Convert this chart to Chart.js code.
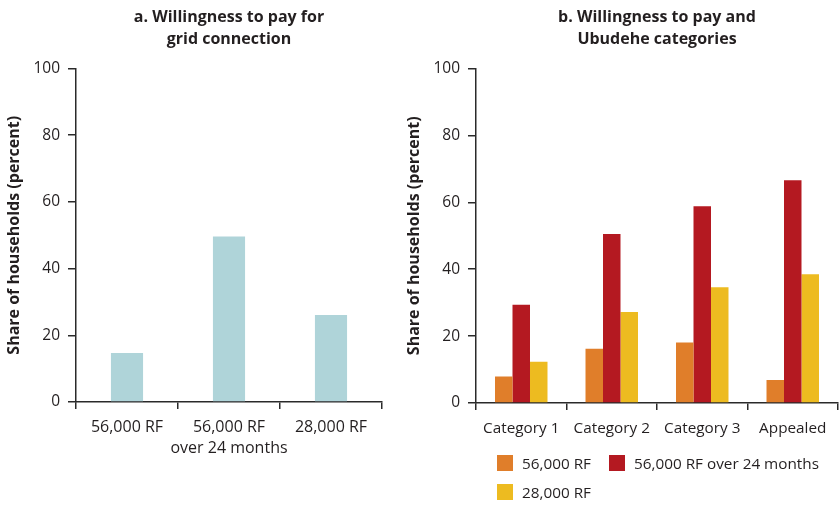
<!DOCTYPE html>
<html>
<head>
<meta charset="utf-8">
<script src="https://cdn.jsdelivr.net/npm/chart.js@4"></script>
<style>
  html, body { margin: 0; padding: 0; background: #fff; }
  #wrap { position: relative; width: 839px; height: 505px; overflow: hidden; font-family: "Open Sans", sans-serif; color: #231f20; }
  .panel { position: absolute; top: 0; }
  #panelA { left: 0; width: 420px; height: 505px; }
  #panelB { left: 400px; width: 439px; height: 505px; }
  .legend { position: absolute; font-size: 15.3px; color: #231f20; white-space: nowrap; }
  .legend .item { position: absolute; display: flex; align-items: center; line-height: 16px; }
  .legend .swatch { width: 16px; height: 16px; margin-right: 9px; }
</style>
</head>
<body>
<div id="wrap">
  <div class="panel" id="panelA"><canvas id="chartA"></canvas></div>
  <div class="panel" id="panelB"><canvas id="chartB"></canvas></div>
  <div class="legend" id="legendB"></div>
</div>
<script>
// panel a: willingness to pay for a grid connection
const optionLabels = ['56,000 RF', ['56,000 RF', 'over 24 months'], '28,000 RF'];
const optionShares = [14.7, 49.6, 26.1];

// panel b: by Ubudehe category
const ubudeheLabels = ['Category 1', 'Category 2', 'Category 3', 'Appealed'];
const seriesNames = ['56,000 RF', '56,000 RF over 24 months', '28,000 RF'];
const lumpSum = [7.9, 16.2, 18.1, 6.9];
const installments = [29.4, 50.5, 58.8, 66.6];
const halfPrice = [12.3, 27.2, 34.6, 38.5];
const yTicks = [0, 20, 40, 60, 80, 100];

const seriesColors = ['#e07e2a', '#b41921', '#edbb20'];
const ink = '#231f20';
const axisInk = '#2a2a2a';
const fontFamily = '"Open Sans", sans-serif';

Chart.defaults.font.family = fontFamily;
Chart.defaults.color = ink;
Chart.defaults.animation = false;
Chart.defaults.responsive = true;
Chart.defaults.maintainAspectRatio = false;

function axisScales(xHeight, xFontSize) {
    return {
        x: {
            grid: { display: true, drawOnChartArea: false, offset: true, tickLength: 7, color: axisInk, lineWidth: 1.5 },
            border: { display: true, color: axisInk, width: 1.5 },
            ticks: { font: { size: xFontSize, lineHeight: 1.33 }, padding: 8, maxRotation: 0, autoSkip: false },
            afterFit: (scale) => { scale.height = xHeight; }
        },
        y: {
            min: 0,
            max: 100,
            afterBuildTicks: (scale) => { scale.ticks = yTicks.map(v => ({ value: v })); },
            grid: { display: true, drawOnChartArea: false, tickLength: 8, color: axisInk, lineWidth: 1.5 },
            border: { display: true, color: axisInk, width: 1.5 },
            ticks: { font: { size: 15.5 }, padding: 8 },
            title: {
                display: true,
                text: 'Share of households (percent)',
                font: { size: 16, weight: 'bold' },
                padding: { top: 5, bottom: 0 }
            },
            afterFit: (scale) => { scale.width = 76; }
        }
    };
}

function panelTitle(lines) {
    return {
        display: true,
        text: lines,
        fullSize: false,
        color: ink,
        font: { size: 16, weight: 'bold', lineHeight: 1.36 },
        padding: { top: 7, bottom: 18 }
    };
}

new Chart(document.getElementById('chartA'), {
    type: 'bar',
    data: {
        labels: optionLabels,
        datasets: [{
            data: optionShares,
            backgroundColor: '#afd4d9',
            categoryPercentage: 0.315,
            barPercentage: 1.0
        }]
    },
    options: {
        layout: { padding: { left: 0, right: 38, top: 0, bottom: 0 } },
        plugins: {
            legend: { display: false },
            tooltip: { enabled: false },
            title: panelTitle(['a. Willingness to pay for', 'grid connection'])
        },
        scales: axisScales(103, 16)
    }
});

new Chart(document.getElementById('chartB'), {
    type: 'bar',
    data: {
        labels: ubudeheLabels,
        datasets: [lumpSum, installments, halfPrice].map((vals, i) => ({
            label: seriesNames[i],
            data: vals,
            backgroundColor: seriesColors[i],
            categoryPercentage: 0.58,
            barPercentage: 1.0
        }))
    },
    options: {
        layout: { padding: { left: 0, right: 1, top: 0, bottom: 0 } },
        plugins: {
            legend: { display: false },
            tooltip: { enabled: false },
            title: panelTitle(['b. Willingness to pay and', 'Ubudehe categories'])
        },
        scales: axisScales(102, 15.3)
    }
});

// legend under panel b, two rows
const legendSpots = [[497, 455], [609, 455], [497, 484]];
const legendBox = document.getElementById('legendB');
seriesNames.forEach((name, i) => {
    const item = document.createElement('div');
    item.className = 'item';
    item.style.left = legendSpots[i][0] + 'px';
    item.style.top = legendSpots[i][1] + 'px';
    const sw = document.createElement('span');
    sw.className = 'swatch';
    sw.style.background = seriesColors[i];
    const txt = document.createElement('span');
    txt.innerText = name;
    item.appendChild(sw);
    item.appendChild(txt);
    legendBox.appendChild(item);
});
</script>
</body>
</html>
